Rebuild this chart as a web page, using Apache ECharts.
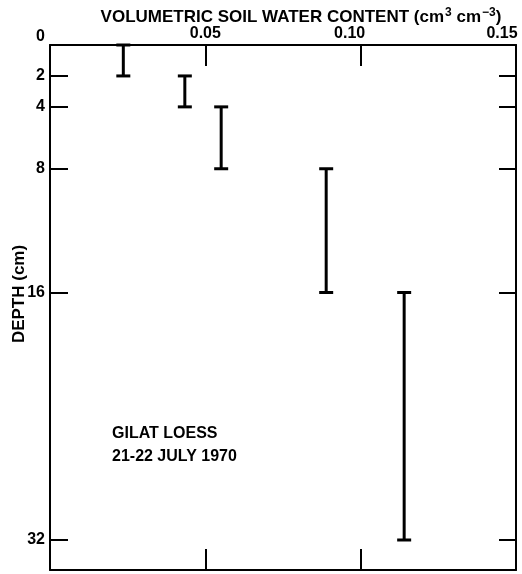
<!DOCTYPE html>
<html>
<head>
<meta charset="utf-8">
<script src="https://cdn.jsdelivr.net/npm/echarts@6/dist/echarts.min.js"></script>
<style>
  html, body { margin: 0; padding: 0; background: #fff; }
  #chart { width: 522px; height: 574px; }
</style>
</head>
<body>
<div id="chart"></div>
<script>
// Data
var waterContent = [0.0236, 0.0434, 0.0551, 0.0889, 0.114];
var depthTop = [0, 2, 4, 8, 16];
var depthBottom = [2, 4, 8, 16, 32];
var xTickValues = [0, 0.05, 0.10, 0.15];
var xTickLabels = ['', '0.05', '0.10', '0.15'];
var depthTicks = [0, 2, 4, 8, 16, 32];

var FONT = 'Liberation Sans';
var rows = waterContent.map(function (v, i) { return [v, depthTop[i], depthBottom[i]]; });

var chart = echarts.init(document.getElementById('chart'), null, { renderer: 'canvas' });

var lineStyle = { color: '#000', width: 2 };
var commonY = {
  type: 'value', min: 0, max: 33.94, inverse: true,
  splitLine: { show: false },
  axisLine: { show: true, onZero: false, lineStyle: lineStyle }
};
var commonX = {
  type: 'value', min: 0, max: 0.15, interval: 0.05,
  splitLine: { show: false },
  axisLine: { show: true, onZero: false, lineStyle: lineStyle },
  axisTick: { show: true, inside: true, length: 21, lineStyle: lineStyle }
};
var txt = { fontFamily: FONT, fontWeight: 'bold', color: '#000' };

chart.setOption({
  animation: false,
  backgroundColor: '#fff',
  grid: { left: 50, right: 6, top: 45, bottom: 4, outerBoundsMode: 'none' },
  xAxis: [
    Object.assign({}, commonX, {
      position: 'top',
      axisLabel: Object.assign({
        show: true, margin: 3, fontSize: 16,
        formatter: function (v) {
          var i = xTickValues.findIndex(function (t) { return Math.abs(t - v) < 1e-9; });
          var s = i >= 0 ? xTickLabels[i] : '';
          if (s === '0.10') return '{a|' + s + '}';
          if (s === '0.15') return '{b|' + s + '}';
          return s;
        },
        rich: {
          a: Object.assign({ padding: [0, 22, 0, 0], fontSize: 16 }, txt),
          b: Object.assign({ padding: [0, 28, 0, 0], fontSize: 16 }, txt)
        }
      }, txt),
      name: '{t|VOLUMETRIC SOIL WATER CONTENT (cm}{s|3}{t| cm}{s|−3}{t|)}',
      nameLocation: 'middle', nameGap: 17, nameMoveOverlap: false,
      nameTextStyle: Object.assign({
        fontSize: 17, padding: [0, 0, 0, 36],
        rich: {
          t: Object.assign({ fontSize: 17 }, txt),
          s: Object.assign({ fontSize: 12, padding: [0, 0, 9, 1] }, txt)
        }
      }, txt)
    }),
    Object.assign({}, commonX, {
      position: 'bottom',
      axisLabel: { show: false }
    })
  ],
  yAxis: [
    Object.assign({}, commonY, {
      position: 'left',
      axisTick: { show: true, inside: true, length: 18, customValues: depthTicks, lineStyle: lineStyle },
      axisLabel: Object.assign({
        show: true, margin: 5, fontSize: 16,
        customValues: depthTicks,
        formatter: function (v) { return v === 0 ? '{z|0}' : String(v); },
        rich: { z: Object.assign({ padding: [0, 0, 16, 0], fontSize: 16 }, txt) }
      }, txt),
      name: 'DEPTH (cm)',
      nameLocation: 'middle', nameGap: 22, nameMoveOverlap: false,
      nameTextStyle: Object.assign({ fontSize: 17, padding: [0, 0, 0, 27] }, txt)
    }),
    Object.assign({}, commonY, {
      position: 'right',
      axisTick: { show: true, inside: true, length: 17, customValues: depthTicks, lineStyle: lineStyle },
      axisLabel: { show: false }
    })
  ],
  graphic: [
    {
      type: 'text', left: 112, top: 422,
      style: {
        text: 'GILAT LOESS\n21-22 JULY 1970',
        fill: '#000', font: 'bold 16px "Liberation Sans"', lineHeight: 23
      }
    }
  ],
  series: [
    {
      type: 'custom',
      xAxisIndex: 0, yAxisIndex: 0,
      clip: false,
      data: rows,
      encode: { x: 0, y: [1, 2] },
      renderItem: function (params, api) {
        var x = api.value(0);
        var p0 = api.coord([x, api.value(1)]);
        var p1 = api.coord([x, api.value(2)]);
        var w = 7;
        var st = { stroke: '#000', lineWidth: 3 };
        return {
          type: 'group',
          children: [
            { type: 'line', shape: { x1: p0[0], y1: p0[1], x2: p1[0], y2: p1[1] }, style: st },
            { type: 'line', shape: { x1: p0[0] - w, y1: p0[1], x2: p0[0] + w, y2: p0[1] }, style: st },
            { type: 'line', shape: { x1: p1[0] - w, y1: p1[1], x2: p1[0] + w, y2: p1[1] }, style: st }
          ]
        };
      }
    }
  ]
});
</script>
</body>
</html>
